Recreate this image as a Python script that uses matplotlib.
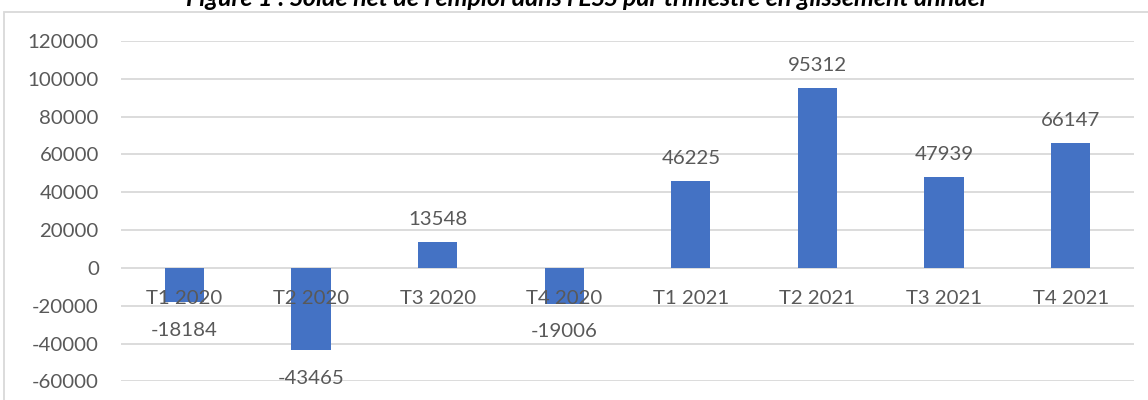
import matplotlib
matplotlib.use("Agg")
from matplotlib import pyplot as plt
from matplotlib.patches import Rectangle

# Solde net de l'emploi dans l'ESS, glissement annuel
categories = ["T1 2020", "T2 2020", "T3 2020", "T4 2020",
              "T1 2021", "T2 2021", "T3 2021", "T4 2021"]
values = [-18184, -43465, 13548, -19006, 46225, 95312, 47939, 66147]
y_ticks = [-60000, -40000, -20000, 0, 20000, 40000, 60000, 80000, 100000, 120000]
title = "Figure 1 : Solde net de l'emploi dans l'ESS par trimestre en glissement annuel"

BAR = "#4472C4"
TXT = "#595959"
GRID = "#D9D9D9"


def main():
    plt.rcParams['font.family'] = ['Lato', 'DejaVu Sans']

    W, H = 1148, 400
    fig = plt.figure(figsize=(W / 100, H / 100), dpi=100)

    # chart frame (cropped on right and bottom)
    fig.patches.append(Rectangle((4 / W, -0.1), 1.2, 1 - 12 / H + 0.1,
                                 transform=fig.transFigure, fill=False,
                                 edgecolor=GRID, linewidth=1.3))

    # title, partly cut off at the top like in the source
    fig.text(586 / W, 1 - 6 / H, title, ha='center', va='baseline',
             fontsize=18, fontweight='bold', fontstyle='italic', color='black')

    left, right = 121 / W, 1134 / W
    top, bottom = 1 - 41 / H, 1 - 381.4 / H
    ax = fig.add_axes([left, bottom, right - left, top - bottom])

    x = list(range(len(categories)))
    ax.bar(x, values, width=0.31, color=BAR, zorder=3)

    ax.set_xlim(-0.5, len(categories) - 0.5)
    ax.set_ylim(-60000, 120000)

    for s in ax.spines.values():
        s.set_visible(False)
    ax.spines['bottom'].set_position(('data', 0))

    ax.set_yticks(y_ticks)
    ax.set_yticklabels([str(v) for v in y_ticks])
    ax.set_xticks(x)
    ax.set_xticklabels(categories)
    ax.tick_params(axis='both', length=0, labelsize=14.7, labelcolor=TXT)
    ax.tick_params(axis='y', pad=16)
    ax.tick_params(axis='x', pad=16)

    ax.grid(visible=True, axis='y', color=GRID, linewidth=1.3)
    ax.yaxis.set_zorder(0.5)
    ax.xaxis.set_zorder(5)   # category labels sit on top of the bars

    for xi, v in zip(x, values):
        if v >= 0:
            ax.annotate(str(v), (xi, v), xytext=(0, 10), textcoords='offset points',
                        ha='center', va='bottom', fontsize=14.7, color=TXT, zorder=4)
        else:
            ax.annotate(str(v), (xi, v), xytext=(0, -14), textcoords='offset points',
                        ha='center', va='top', fontsize=14.7, color=TXT, zorder=4)

    fig.savefig('out.png', dpi=100)


if __name__ == '__main__':
    main()
